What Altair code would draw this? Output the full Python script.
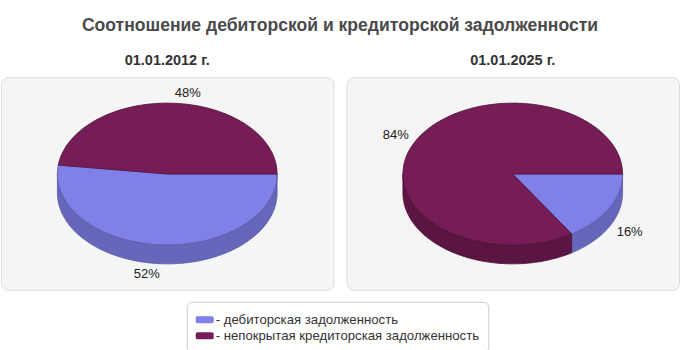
import altair as alt
import numpy as np
import pandas as pd

# ---- data ----
categories = ["дебиторская задолженность", "непокрытая кредиторская задолженность"]
dates = ["01.01.2012 г.", "01.01.2025 г."]
shares_2012 = [52, 48]
shares_2025 = [16, 84]
title_text = "Соотношение дебиторской и кредиторской задолженности"

# ---- styling / geometry constants ----
W, H = 333, 213
RX, RY, DEPTH = 110, 71, 19
X_DOM = [-W / 2, W / 2]
Y_DOM = [-97, H - 97]
FONT = "Liberation Sans"
side_keys = [c + " (бок)" for c in categories]
top_colors = ["#8080e8", "#761c56"]
side_colors = ["#6666bb", "#5b1543"]
edge_colors = ["#5a5aa6", "#4d1038", "#5a5aa6", "#4d1038"]


def pie_tables(shares):
    total = float(sum(shares))
    tops, sides, labels = [], [], []
    start = 0.0
    for k, (cat, v) in enumerate(zip(categories, shares)):
        a0 = start
        a1 = start + v / total * 2 * np.pi
        start = a1
        # top face
        ts = np.linspace(a0, a1, 120)
        pts = [(0.0, 0.0)] + [(RX * np.cos(t), RY * np.sin(t)) for t in ts] + [(0.0, 0.0)]
        for i, (x, y) in enumerate(pts):
            tops.append({"poly": f"t{k}", "i": i, "x": x, "y": y, "part": cat})
        # visible side wall
        s, e = max(a0, 0.0), min(a1, np.pi)
        if s < e:
            ts = np.linspace(s, e, 120)
            pts = [(RX * np.cos(t), RY * np.sin(t)) for t in ts]
            pts += [(RX * np.cos(t), RY * np.sin(t) + DEPTH) for t in ts[::-1]]
            pts.append(pts[0])
            for i, (x, y) in enumerate(pts):
                sides.append({"poly": f"s{k}", "i": i, "x": x, "y": y, "part": side_keys[k]})
        # label
        m = (a0 + a1) / 2
        c, sn = np.cos(m), np.sin(m)
        labels.append({
            "x": RX * 1.08 * c,
            "y": RY * 1.14 * sn + (DEPTH if sn > 0 else 0),
            "text": f"{v}%",
            "right": bool(c >= 0),
        })
    return pd.DataFrame(tops), pd.DataFrame(sides), pd.DataFrame(labels)


xs = alt.Scale(domain=X_DOM, nice=False, zero=False)
ys = alt.Scale(domain=Y_DOM, nice=False, zero=False, reverse=True)
fill_scale = alt.Scale(domain=categories + side_keys, range=top_colors + side_colors)
stroke_scale = alt.Scale(domain=categories + side_keys, range=edge_colors)

legend = alt.Legend(
    values=categories,
    title=None,
    orient="none",
    legendX=186,
    legendY=225,
    labelExpr="'- ' + datum.label",
    symbolType="M-0.8,-0.39H0.8A0.2,0.2 0 0 1 1,-0.19V0.19A0.2,0.2 0 0 1 0.8,0.39H-0.8A0.2,0.2 0 0 1 -1,0.19V-0.19A0.2,0.2 0 0 1 -0.8,-0.39Z",
    symbolSize=324,
    symbolStrokeWidth=0,
    symbolOpacity=1,
    labelFont=FONT,
    labelFontSize=13.2,
    labelColor="#333333",
    labelOffset=2,
    rowPadding=0,
    padding=9,
    fillColor="#ffffff",
    strokeColor="#cccccc",
    cornerRadius=5,
    labelLimit=400,
)


def make_panel(date, shares):
    tops, sides, labels = pie_tables(shares)
    enc = dict(
        x=alt.X("x:Q", scale=xs, axis=None),
        y=alt.Y("y:Q", scale=ys, axis=None),
        order=alt.Order("i:Q"),
        detail="poly:N",
    )
    side_layer = alt.Chart(sides).mark_line(strokeWidth=0.8, interpolate="linear").encode(
        fill=alt.Fill("part:N", scale=fill_scale, legend=legend),
        stroke=alt.Stroke("part:N", scale=stroke_scale, legend=None),
        **enc,
    )
    top_layer = alt.Chart(tops).mark_line(strokeWidth=0.8, interpolate="linear").encode(
        fill=alt.Fill("part:N", scale=fill_scale, legend=legend),
        stroke=alt.Stroke("part:N", scale=stroke_scale, legend=None),
        **enc,
    )
    txt = dict(font=FONT, fontSize=13, color="#222222", baseline="middle")
    lab_r = alt.Chart(labels).transform_filter("datum.right").mark_text(align="left", **txt).encode(
        x=alt.X("x:Q", scale=xs, axis=None), y=alt.Y("y:Q", scale=ys, axis=None), text="text:N"
    )
    lab_l = alt.Chart(labels).transform_filter("!datum.right").mark_text(align="right", **txt).encode(
        x=alt.X("x:Q", scale=xs, axis=None), y=alt.Y("y:Q", scale=ys, axis=None), text="text:N"
    )
    return alt.layer(side_layer, top_layer, lab_r, lab_l).properties(
        width=W,
        height=H,
        title=alt.TitleParams(date, font=FONT, fontSize=14.5, fontWeight="bold", color="#333333",
                              anchor="middle", offset=9),
    )


chart = alt.hconcat(
    make_panel(dates[0], shares_2012),
    make_panel(dates[1], shares_2025),
    spacing=11,
).properties(
    title=alt.TitleParams(title_text, font=FONT, fontSize=17.6, fontWeight="bold", color="#4a4a4a",
                          anchor="middle", offset=18),
    padding={"left": 0, "top": 16, "right": 0, "bottom": 0},
    background="#ffffff",
).configure_view(
    fill="#f5f5f5", stroke="#dedede", strokeWidth=1, cornerRadius=7
)

chart.save("out.html", embed_options={"renderer": "svg", "actions": False})
